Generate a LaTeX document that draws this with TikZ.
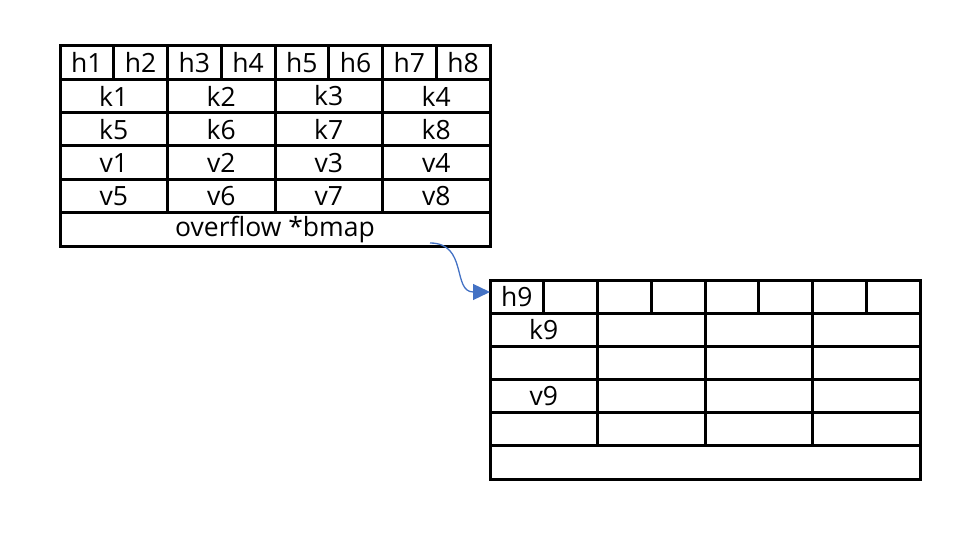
\documentclass[tikz,border=0pt]{standalone}
\usepackage{fontspec}
\setmainfont{Open Sans}
\usetikzlibrary{arrows.meta}
\definecolor{arrowblue}{RGB}{68,114,196}
\tikzset{
  grid/.style={line width=3pt, line cap=rect},
  lbl/.style={font=\fontsize{26.5}{30}\selectfont, inner sep=0pt, anchor=center},
  link/.style={arrowblue, line width=1.3pt, -{Triangle[length=17pt,width=16pt]}}
}
\begin{document}
\begin{tikzpicture}[x=1pt,y=-1pt]
\useasboundingbox (0,0) rectangle (955,540);
% ---- table 1 ----
\def\ax{60}\def\bx{490}\def\ay{46}\def\by{246}
\pgfmathsetmacro\cw{(\bx-\ax)/4}
\pgfmathsetmacro\rh{(\by-\ay)/6}
\draw[grid] (\ax,\ay) rectangle (\bx,\by);
\foreach \i in {1,...,5} \draw[grid] (\ax,\ay+\i*\rh) -- (\bx,\ay+\i*\rh);
\foreach \j in {1,2,3} \draw[grid] (\ax+\j*\cw,\ay) -- (\ax+\j*\cw,\ay+5*\rh);
\foreach \j in {0,1,2,3} \draw[grid] (\ax+\j*\cw+0.5*\cw,\ay) -- (\ax+\j*\cw+0.5*\cw,\ay+\rh);
% header labels
\foreach \n in {1,...,8}
  \node[lbl] (h\n) at (\ax+\n*0.5*\cw-0.25*\cw,\ay+0.5*\rh) {h\n};
\foreach \n in {1,...,4} {
  \pgfmathtruncatemacro\m{\n+4}
  \node[lbl] (k\n) at (\ax+\n*\cw-0.5*\cw,\ay+1.5*\rh) {k\n};
  \node[lbl] (k\m) at (\ax+\n*\cw-0.5*\cw,\ay+2.5*\rh) {k\m};
  \node[lbl] (v\n) at (\ax+\n*\cw-0.5*\cw,\ay+3.5*\rh) {v\n};
  \node[lbl] (v\m) at (\ax+\n*\cw-0.5*\cw,\ay+4.5*\rh) {v\m};
}
\node[lbl] (ovf) at (\ax+2*\cw,\ay+5.5*\rh) {overflow *bmap};
\coordinate (ovfptr) at (430,243);
% ---- table 2 ----
\def\cx{490}\def\dx{920}\def\cy{280}\def\dy{479}
\pgfmathsetmacro\cwb{(\dx-\cx)/4}
\pgfmathsetmacro\rhb{(\dy-\cy)/6}
\draw[grid] (\cx,\cy) rectangle (\dx,\dy);
\foreach \i in {1,...,5} \draw[grid] (\cx,\cy+\i*\rhb) -- (\dx,\cy+\i*\rhb);
\foreach \j in {1,2,3} \draw[grid] (\cx+\j*\cwb,\cy) -- (\cx+\j*\cwb,\cy+5*\rhb);
\foreach \j in {0,1,2,3} \draw[grid] (\cx+\j*\cwb+0.5*\cwb,\cy) -- (\cx+\j*\cwb+0.5*\cwb,\cy+\rhb);
\node[lbl] (h9) at (\cx+0.25*\cwb,\cy+0.5*\rhb) {h9};
\node[lbl] (k9) at (\cx+0.5*\cwb,\cy+1.5*\rhb) {k9};
\node[lbl] (v9) at (\cx+0.5*\cwb,\cy+3.5*\rhb) {v9};
\coordinate (bucket2) at (490,292);
% ---- pointer ----
\draw[link] (ovfptr) .. controls (468,243) and (452,292) .. (bucket2);
\end{tikzpicture}
\end{document}
